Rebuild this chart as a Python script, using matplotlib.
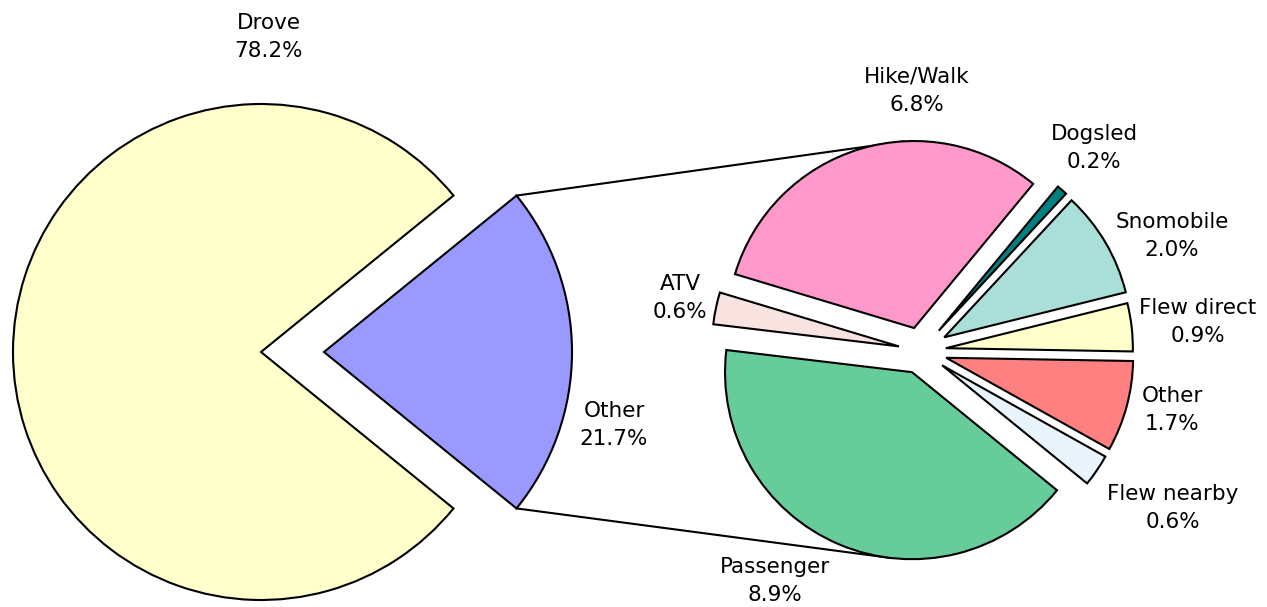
#!/usr/bin/env python3
"""
Pie of pie: how visitors arrived, with the 'Other' slice broken out.
"""

import numpy as np
import matplotlib
matplotlib.use('Agg')
import matplotlib.pyplot as plt

# main pie
main_labels = ['Other', 'Drove']
main_values = [21.7, 78.2]
main_colors = ['#9999FF', '#FFFFCC']

# breakdown of 'Other', counterclockwise from the right
sub_labels = ['Flew direct', 'Snomobile', 'Dogsled', 'Hike/Walk', 'ATV',
              'Passenger', 'Flew nearby', 'Other']
sub_values = [0.9, 2.0, 0.2, 6.8, 0.6, 8.9, 0.6, 1.7]
sub_colors = ['#FFFFCC', '#AADED8', '#008080', '#FF99CC', '#F9E3E1',
              '#66CC99', '#E9F3FC', '#FF8080']

W, H = 1267, 607

# explode offsets, in pixels (pie() takes them in data units)
main_explode = [63, 0]
sub_explode = [25, 27, 27, 24, 22.5, 23, 25.5, 26]

# label centres in pixels (x, y from top)
main_label_pos = {'Other': (614, 425), 'Drove': (269, 37)}
sub_label_pos = {
    'Hike/Walk': (917, 91),
    'Dogsled': (1094, 148),
    'Snomobile': (1172, 236),
    'Flew direct': (1198, 322),
    'Other': (1172, 410),
    'Flew nearby': (1173, 508),
    'Passenger': (775, 581),
    'ATV': (680, 298),
}

fig = plt.figure(figsize=(W / 100, H / 100), dpi=100)
ax = fig.add_axes([0, 0, 1, 1])

wedge_style = dict(edgecolor='black', linewidth=1.5)

start = -180 * main_values[0] / sum(main_values)
main_wedges, _ = ax.pie(main_values, colors=main_colors, explode=main_explode,
                        startangle=start, radius=248, center=(261, H - 352),
                        wedgeprops=wedge_style, frame=True)

sub_wedges, _ = ax.pie(sub_values, colors=sub_colors, explode=sub_explode,
                       startangle=-1, radius=187, center=(921, H - 351),
                       wedgeprops=wedge_style, frame=True)


def point_on(wedge, angle):
    cx, cy = wedge.center
    a = np.deg2rad(angle)
    return cx + wedge.r * np.cos(a), cy + wedge.r * np.sin(a)


# connector lines from the 'Other' slice to the breakdown pie
other = main_wedges[0]
hike = sub_wedges[sub_labels.index('Hike/Walk')]
passenger = sub_wedges[sub_labels.index('Passenger')]
for p0, p1 in [(point_on(other, other.theta2), point_on(hike, 93)),
               (point_on(other, other.theta1), point_on(passenger, 263.7))]:
    ax.plot([p0[0], p1[0]], [p0[1], p1[1]], color='black', lw=1.5,
            zorder=0.5)

for name, val in zip(main_labels, main_values):
    x, y = main_label_pos[name]
    ax.text(x, H - y, '%s\n%.1f%%' % (name, val), ha='center', va='center',
            fontsize=15.5, family='DejaVu Sans', linespacing=1.5)

for name, val in zip(sub_labels, sub_values):
    x, y = sub_label_pos[name]
    ax.text(x, H - y, '%s\n%.1f%%' % (name, val), ha='center', va='center',
            fontsize=15.5, family='DejaVu Sans', linespacing=1.5)

ax.set_xlim(0, W)
ax.set_ylim(0, H)
ax.set_aspect('equal')
ax.axis('off')

fig.savefig('out.png', dpi=100)
